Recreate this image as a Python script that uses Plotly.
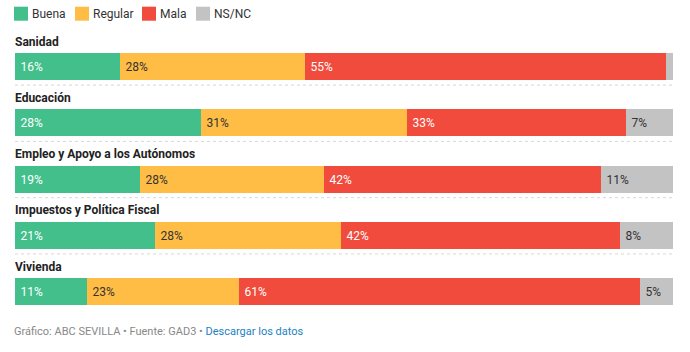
import plotly.graph_objects as go

categories = ["Sanidad", "Educación", "Empleo y Apoyo a los Autónomos",
              "Impuestos y Política Fiscal", "Vivienda"]
series_names = ["Buena", "Regular", "Mala", "NS/NC"]
buena = [16.0, 28.3, 19.0, 21.3, 10.9]
regular = [28.1, 31.3, 28.0, 28.2, 23.1]
mala = [54.8, 33.3, 42.1, 42.4, 61.0]
nsnc = [1.1, 7.1, 10.9, 8.1, 5.0]
series_values = [buena, regular, mala, nsnc]
colors = ["#43bf8c", "#ffbd45", "#f04b3c", "#c3c3c3"]
text_colors = ["#ffffff", "#333333", "#ffffff", "#333333"]

W, H = 690, 352
ML, MR, MT, MB = 15, 17, 30, 32
PH = H - MT - MB
ROW = 56.3
TOP_VAL = -(66.5 - MT) / ROW
BOT_VAL = TOP_VAL + PH / ROW

def px_x(px):
    return (px - ML) / (W - ML - MR)

def px_y(py):
    return (H - MB - py) / PH

ypos = list(range(len(categories)))

fig = go.Figure()
for name, vals, col, tcol in zip(series_names, series_values, colors, text_colors):
    fig.add_trace(go.Bar(
        x=vals, y=ypos, orientation="h", name=name,
        marker=dict(color=col, line=dict(width=0)),
        width=0.48,
        text=vals, texttemplate="\u2009%{x:.0f}%",
        textposition="inside", insidetextanchor="start",
        textfont=dict(color=tcol, size=12, family="Roboto"),
        hoverinfo="skip", showlegend=False,
    ))

shapes = []
annotations = []
for i, cat in enumerate(categories):
    annotations.append(dict(
        x=0, y=i, xref="x", yref="y", text="<b>" + cat + "</b>",
        showarrow=False, xanchor="left", yanchor="middle", yshift=25, xshift=-2,
        font=dict(size=12, color="#222222", family="Roboto"),
    ))
    if i < len(categories) - 1:
        shapes.append(dict(
            type="line", xref="x", yref="y", x0=0, x1=100,
            y0=i + 0.33, y1=i + 0.33,
            line=dict(color="#d6d6d6", width=1, dash="dot"),
        ))

legend_px = [14, 75, 142, 196]
for lx, name, col in zip(legend_px, series_names, colors):
    shapes.append(dict(
        type="rect", xref="paper", yref="paper",
        x0=px_x(lx), x1=px_x(lx + 14), y0=px_y(20.7), y1=px_y(6.7),
        fillcolor=col, line=dict(width=0),
    ))
    annotations.append(dict(
        x=px_x(lx + 16), y=px_y(14), xref="paper", yref="paper", text=name,
        showarrow=False, xanchor="left", yanchor="middle",
        font=dict(size=12, color="#333333", family="Roboto"),
    ))

annotations.append(dict(
    x=px_x(12), y=px_y(331), xref="paper", yref="paper",
    text=("<span style='color:#888888'>Gráfico: ABC SEVILLA • Fuente: GAD3 • </span>"
          "<span style='color:#1d81c2'>Descargar los datos</span>"),
    showarrow=False, xanchor="left", yanchor="middle",
    font=dict(size=11, family="Roboto"),
))

fig.update_layout(
    width=W, height=H, barmode="stack",
    margin=dict(l=ML, r=MR, t=MT, b=MB),
    paper_bgcolor="white", plot_bgcolor="white",
    xaxis=dict(range=[0, 100], visible=False, fixedrange=True),
    yaxis=dict(range=[BOT_VAL, TOP_VAL], visible=False, fixedrange=True),
    shapes=shapes, annotations=annotations,
    uniformtext=dict(mode="hide", minsize=12),
    font=dict(family="Roboto"),
    bargap=0,
)

fig.write_html("out.html", config={"displayModeBar": False})
